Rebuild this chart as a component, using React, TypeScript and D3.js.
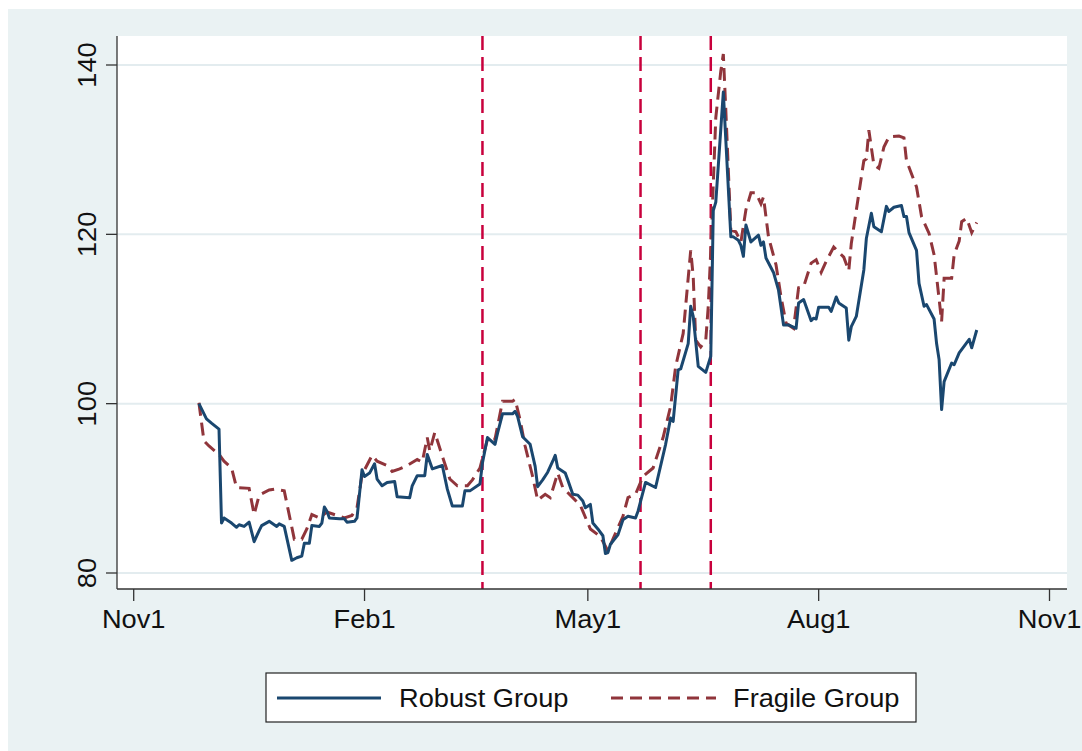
import * as d3 from 'd3';

// Robust group (solid navy)
const robustDates = [
  '2008-11-27', '2008-11-30', '2008-12-02', '2008-12-05', '2008-12-06', '2008-12-07', '2008-12-10',
  '2008-12-12', '2008-12-13', '2008-12-15', '2008-12-17', '2008-12-19', '2008-12-21', '2008-12-22',
  '2008-12-25', '2008-12-26', '2008-12-28', '2008-12-29', '2008-12-31', '2009-01-03', '2009-01-05',
  '2009-01-07', '2009-01-08', '2009-01-10', '2009-01-11', '2009-01-14', '2009-01-15', '2009-01-16',
  '2009-01-17', '2009-01-18', '2009-01-22', '2009-01-24', '2009-01-25', '2009-01-28', '2009-01-29',
  '2009-01-31', '2009-02-01', '2009-02-03', '2009-02-05', '2009-02-06', '2009-02-08', '2009-02-10',
  '2009-02-13', '2009-02-14', '2009-02-19', '2009-02-20', '2009-02-22', '2009-02-25', '2009-02-26',
  '2009-02-28', '2009-03-04', '2009-03-06', '2009-03-08', '2009-03-12', '2009-03-13', '2009-03-15',
  '2009-03-19', '2009-03-20', '2009-03-22', '2009-03-25', '2009-03-26', '2009-03-28', '2009-04-01',
  '2009-04-02', '2009-04-03', '2009-04-05', '2009-04-08', '2009-04-10', '2009-04-11', '2009-04-13',
  '2009-04-15', '2009-04-17', '2009-04-18', '2009-04-19', '2009-04-22', '2009-04-23', '2009-04-25',
  '2009-04-27', '2009-04-29', '2009-04-30', '2009-05-02', '2009-05-03', '2009-05-05', '2009-05-07',
  '2009-05-08', '2009-05-09', '2009-05-10', '2009-05-13', '2009-05-15', '2009-05-17', '2009-05-20',
  '2009-05-21', '2009-05-24', '2009-05-28', '2009-06-01', '2009-06-03', '2009-06-04', '2009-06-06',
  '2009-06-07', '2009-06-10', '2009-06-11', '2009-06-12', '2009-06-14', '2009-06-17', '2009-06-19',
  '2009-06-20', '2009-06-21', '2009-06-24', '2009-06-25', '2009-06-27', '2009-06-28', '2009-06-30',
  '2009-07-01', '2009-07-02', '2009-07-03', '2009-07-05', '2009-07-08', '2009-07-09', '2009-07-10',
  '2009-07-11', '2009-07-14', '2009-07-16', '2009-07-18', '2009-07-20', '2009-07-23', '2009-07-24',
  '2009-07-26', '2009-07-29', '2009-07-30', '2009-07-31', '2009-08-01', '2009-08-05', '2009-08-06',
  '2009-08-08', '2009-08-09', '2009-08-12', '2009-08-13', '2009-08-14', '2009-08-16', '2009-08-19',
  '2009-08-20', '2009-08-22', '2009-08-23', '2009-08-26', '2009-08-28', '2009-08-29', '2009-08-31',
  '2009-09-03', '2009-09-04', '2009-09-05', '2009-09-06', '2009-09-09', '2009-09-10', '2009-09-12',
  '2009-09-13', '2009-09-16', '2009-09-17', '2009-09-18', '2009-09-19', '2009-09-20', '2009-09-23',
  '2009-09-24', '2009-09-26', '2009-09-30', '2009-10-01', '2009-10-03',
];
const robustValues = [
  100.0, 98.2, 97.7, 97.0, 85.9, 86.5, 85.9,
  85.4, 85.7, 85.5, 86.0, 83.7, 85.0, 85.6,
  86.1, 85.9, 85.5, 85.8, 85.5, 81.5, 81.8,
  82.0, 83.5, 83.5, 85.6, 85.5, 85.9, 87.8,
  87.3, 86.5, 86.4, 86.4, 86.0, 86.1, 86.5,
  92.2, 91.4, 91.8, 92.9, 91.1, 90.3, 90.7,
  90.8, 89.0, 88.9, 90.3, 91.5, 91.5, 94.0,
  92.3, 92.7, 89.9, 87.9, 87.9, 89.7, 89.7,
  90.5, 93.0, 96.0, 95.2, 96.5, 98.8, 98.8,
  99.1, 98.5, 96.1, 95.2, 92.6, 90.2, 91.0,
  91.9, 93.2, 93.9, 92.4, 91.8, 91.0, 89.3,
  89.2, 88.5, 87.7, 88.1, 85.9, 85.2, 84.4,
  82.3, 82.4, 83.4, 84.5, 86.3, 86.7, 86.5,
  87.3, 90.7, 90.1, 95.2, 98.3, 97.9, 104.0,
  104.1, 107.1, 111.5, 110.3, 104.4, 103.7, 105.6,
  122.8, 123.8, 136.8, 131.1, 119.7, 119.7, 119.3,
  118.7, 117.4, 121.1, 119.1, 119.9, 118.7, 119.1,
  117.2, 115.5, 113.4, 109.3, 109.3, 108.9, 111.9,
  112.3, 109.8, 110.1, 110.0, 111.4, 111.4, 110.9,
  112.6, 111.9, 111.3, 107.5, 109.1, 110.3, 115.8,
  119.5, 122.5, 120.9, 120.3, 123.3, 122.7, 123.2,
  123.4, 122.1, 122.1, 120.2, 118.1, 114.2, 111.5,
  111.7, 110.0, 107.1, 105.2, 99.3, 102.6, 104.8,
  104.6, 106.0, 107.6, 106.6, 108.7,
];

// Fragile group (dashed maroon)
const fragileDates = [
  '2008-11-27', '2008-11-29', '2008-12-01', '2008-12-05', '2008-12-07', '2008-12-10', '2008-12-12',
  '2008-12-17', '2008-12-19', '2008-12-21', '2008-12-25', '2008-12-27', '2008-12-31', '2009-01-04',
  '2009-01-07', '2009-01-09', '2009-01-11', '2009-01-14', '2009-01-17', '2009-01-21', '2009-01-24',
  '2009-01-27', '2009-01-29', '2009-01-31', '2009-02-04', '2009-02-06', '2009-02-10', '2009-02-12',
  '2009-02-15', '2009-02-18', '2009-02-22', '2009-02-24', '2009-02-26', '2009-02-27', '2009-03-01',
  '2009-03-04', '2009-03-07', '2009-03-10', '2009-03-14', '2009-03-16', '2009-03-19', '2009-03-22',
  '2009-03-25', '2009-03-28', '2009-04-01', '2009-04-02', '2009-04-04', '2009-04-06', '2009-04-09',
  '2009-04-11', '2009-04-14', '2009-04-16', '2009-04-19', '2009-04-21', '2009-04-24', '2009-04-28',
  '2009-05-02', '2009-05-06', '2009-05-09', '2009-05-11', '2009-05-15', '2009-05-17', '2009-05-20',
  '2009-05-23', '2009-05-27', '2009-05-31', '2009-06-03', '2009-06-05', '2009-06-08', '2009-06-11',
  '2009-06-12', '2009-06-13', '2009-06-15', '2009-06-17', '2009-06-18', '2009-06-19', '2009-06-21',
  '2009-06-23', '2009-06-24', '2009-06-25', '2009-06-27', '2009-06-29', '2009-07-01', '2009-07-03',
  '2009-07-05', '2009-07-07', '2009-07-09', '2009-07-10', '2009-07-12', '2009-07-15', '2009-07-17',
  '2009-07-19', '2009-07-22', '2009-07-24', '2009-07-26', '2009-07-29', '2009-07-31', '2009-08-02',
  '2009-08-04', '2009-08-07', '2009-08-11', '2009-08-13', '2009-08-14', '2009-08-17', '2009-08-19',
  '2009-08-20', '2009-08-21', '2009-08-23', '2009-08-25', '2009-08-27', '2009-08-29', '2009-09-02',
  '2009-09-04', '2009-09-05', '2009-09-09', '2009-09-11', '2009-09-14', '2009-09-16', '2009-09-17',
  '2009-09-19', '2009-09-20', '2009-09-23', '2009-09-24', '2009-09-26', '2009-09-27', '2009-09-29',
  '2009-10-01', '2009-10-03',
];
const fragileValues = [
  100.1, 95.6, 95.0, 94.0, 93.2, 92.4, 90.1,
  90.0, 86.9, 89.2, 89.8, 89.9, 89.7, 84.0,
  84.0, 85.2, 86.9, 86.5, 87.2, 86.8, 86.5,
  86.8, 87.7, 91.6, 93.9, 93.2, 92.7, 92.0,
  92.3, 92.7, 93.4, 93.1, 96.0, 94.4, 96.6,
  93.8, 91.1, 90.3, 90.3, 91.0, 92.4, 95.8,
  95.8, 100.3, 100.3, 100.5, 98.1, 95.0, 91.4,
  88.6, 89.3, 88.9, 91.8, 90.1, 89.2, 88.0,
  85.2, 84.3, 82.6, 84.0, 86.7, 88.9, 89.3,
  91.4, 92.4, 96.0, 99.7, 104.4, 108.3, 118.1,
  115.0, 107.5, 106.7, 107.5, 111.5, 118.1, 133.8,
  139.3, 141.3, 134.6, 120.5, 120.3, 119.1, 122.9,
  124.9, 124.9, 123.6, 124.4, 119.7, 116.4, 112.6,
  109.5, 108.9, 113.7, 113.8, 116.6, 117.0, 115.5,
  116.8, 118.5, 117.3, 115.7, 118.9, 124.8, 128.7,
  128.9, 132.3, 128.2, 127.8, 130.3, 131.5, 131.6,
  131.4, 128.7, 125.6, 122.1, 120.1, 117.6, 115.0,
  109.7, 114.8, 114.8, 117.6, 119.2, 121.5, 121.9,
  120.2, 121.4,
];

const eventDates = ['2009-03-20', '2009-05-22', '2009-06-19'];
const yTicks = [80, 100, 120, 140];
const xTickDates = ['2008-11-01', '2009-02-01', '2009-05-01', '2009-08-01', '2009-11-01'];
const xTickLabels = ['Nov1', 'Feb1', 'May1', 'Aug1', 'Nov1'];
const seriesNames = ['Robust Group', 'Fragile Group'];

const W = 1082;
const H = 751;
const plot = { left: 117, right: 1067, top: 36, bottom: 589 };
const font = '"Liberation Sans", Arial, sans-serif';
const navy = '#1a476f';
const maroon = '#90353b';
const bg = '#eaf2f3';

export default function App() {
  const parse = d3.utcParse('%Y-%m-%d');
  const x = d3
    .scaleUtc()
    .domain([parse('2008-11-01')!, parse('2009-11-01')!])
    .range([133.7, 1049.5]);
  const y = d3.scaleLinear().domain([80, 140]).range([573, 65]);

  const line = d3
    .line<[Date, number]>()
    .x((d) => x(d[0]))
    .y((d) => y(d[1]));

  const robust = robustDates.map((d, i) => [parse(d)!, robustValues[i]] as [Date, number]);
  const fragile = fragileDates.map((d, i) => [parse(d)!, fragileValues[i]] as [Date, number]);

  return (
    <svg
      width={W}
      height={H}
      style={{ position: 'absolute', left: 0, top: 0, display: 'block' }}
      fontFamily={font}
    >
      <rect x={0} y={0} width={W} height={H} fill="white" />
      <rect x={8} y={9} width={W - 8} height={H - 9} fill={bg} />
      <rect
        x={plot.left}
        y={plot.top}
        width={plot.right - plot.left}
        height={plot.bottom - plot.top}
        fill="white"
      />

      {/* gridlines */}
      {yTicks.map((t) => (
        <line
          key={t}
          x1={plot.left}
          x2={plot.right}
          y1={y(t)}
          y2={y(t)}
          stroke="#e3ecef"
          strokeWidth={2}
        />
      ))}

      {/* event lines */}
      {eventDates.map((d) => (
        <line
          key={d}
          x1={x(parse(d)!)}
          x2={x(parse(d)!)}
          y1={plot.top}
          y2={plot.bottom}
          stroke="#c8003c"
          strokeWidth={2.5}
          strokeDasharray="14,7"
        />
      ))}

      <path d={line(fragile) ?? ''} fill="none" stroke={maroon} strokeWidth={3} strokeDasharray="13,7" />
      <path d={line(robust) ?? ''} fill="none" stroke={navy} strokeWidth={3} strokeLinejoin="round" />

      {/* axes */}
      <line x1={plot.left} x2={plot.left} y1={plot.top} y2={plot.bottom} stroke="#333" strokeWidth={1.3} />
      <line x1={plot.left} x2={plot.right} y1={plot.bottom} y2={plot.bottom} stroke="#333" strokeWidth={1.3} />

      {yTicks.map((t) => (
        <g key={t}>
          <line x1={plot.left - 11} x2={plot.left} y1={y(t)} y2={y(t)} stroke="#333" strokeWidth={1.3} />
          <text
            transform={`translate(96,${y(t)}) rotate(-90) scale(1.09,1)`}
            textAnchor="middle"
            fontSize={25}
            fill="#111"
          >
            {t}
          </text>
        </g>
      ))}

      {xTickDates.map((d, i) => {
        const px = x(parse(d)!);
        return (
          <g key={d}>
            <line x1={px} x2={px} y1={plot.bottom} y2={plot.bottom + 12} stroke="#333" strokeWidth={1.3} />
            <text
              transform={`translate(${px},628) scale(1.09,1)`}
              textAnchor="middle"
              fontSize={25}
              fill="#111"
            >
              {xTickLabels[i]}
            </text>
          </g>
        );
      })}

      {/* legend */}
      <rect x={266} y={673} width={650} height={49} fill="white" stroke="#222" strokeWidth={1.2} />
      <line x1={277} x2={381} y1={698} y2={698} stroke={navy} strokeWidth={3} />
      <text transform="translate(399,707) scale(1.09,1)" fontSize={25} fill="#111">
        {seriesNames[0]}
      </text>
      <line x1={611} x2={716} y1={698} y2={698} stroke={maroon} strokeWidth={3} strokeDasharray="12,7" />
      <text transform="translate(733,707) scale(1.09,1)" fontSize={25} fill="#111">
        {seriesNames[1]}
      </text>
    </svg>
  );
}
